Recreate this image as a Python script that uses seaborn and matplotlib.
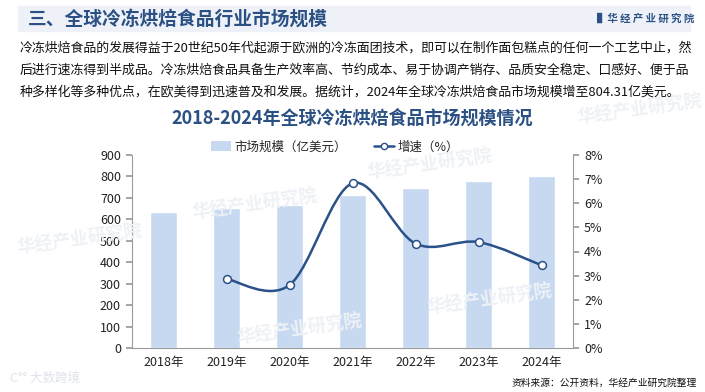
import numpy as np
import pandas as pd
import matplotlib
matplotlib.use('Agg')
import matplotlib.pyplot as plt
import seaborn as sns
from matplotlib.path import Path
from matplotlib.patches import PathPatch, Patch, Rectangle
from matplotlib.lines import Line2D

# data
years = ['2018年', '2019年', '2020年', '2021年', '2022年', '2023年', '2024年']
market_size = [633.3, 651.4, 668.4, 714.0, 744.9, 777.6, 804.31]   # 亿美元
growth = [np.nan, 2.86, 2.61, 6.83, 4.33, 4.39, 3.43]              # %
left_ticks = [0, 100, 200, 300, 400, 500, 600, 700, 800, 900]
right_ticks = [0, 1, 2, 3, 4, 5, 6, 7, 8]

sns.set_theme(style='white')
plt.rcParams['font.family'] = ['Noto Sans CJK SC', 'DejaVu Sans']
plt.rcParams['axes.unicode_minus'] = False

bar_color = '#c6d9f1'
line_color = '#2a5189'
title_color = '#2b5083'

df = pd.DataFrame({'year': years, 'size': market_size, 'growth': growth})

fig = plt.figure(figsize=(7.05, 3.92), dpi=100)

# header banner
fig.patches.append(Rectangle((18 / 705, 1 - 31 / 392), 672 / 705, 25 / 392,
                             transform=fig.transFigure, color='#eef2f8', zorder=0))
fig.text(28 / 705, 1 - 19 / 392, '三、全球冷冻烘焙食品行业市场规模', fontsize=13.5,
         fontweight='bold', color=title_color, va='center', ha='left')
fig.text(597 / 705, 1 - 19 / 392, '▌华 经 产 业 研 究 院', fontsize=7.5,
         fontweight='bold', color=title_color, va='center', ha='left')

para = ['冷冻烘焙食品的发展得益于20世纪50年代起源于欧洲的冷冻面团技术，即可以在制作面包糕点的任何一个工艺中止，然',
        '后进行速冻得到半成品。冷冻烘焙食品具备生产效率高、节约成本、易于协调产销存、品质安全稳定、口感好、便于品',
        '种多样化等多种优点，在欧美得到迅速普及和发展。据统计，2024年全球冷冻烘焙食品市场规模增至804.31亿美元。']
for i, line in enumerate(para):
    fig.text(20 / 705, 1 - (48 + i * 22) / 392, line, fontsize=9.3, color='#111111',
             va='center', ha='left')

fig.text(352 / 705, 1 - 118 / 392, '2018-2024年全球冷冻烘焙食品市场规模情况', fontsize=13,
         fontweight='bold', color=title_color, va='center', ha='center')

fig.text(697 / 705, 1 - 383 / 392, '资料来源：公开资料，华经产业研究院整理', fontsize=7,
         color='#111111', va='center', ha='right')

# faint watermarks
for (x, y, s) in [(255, 205, '华经产业研究院'), (430, 165, '华经产业研究院'),
                  (300, 330, '华经产业研究院'), (490, 300, '华经产业研究院'),
                  (80, 240, '华经产业研究院'), (640, 110, '华经产业研究院')]:
    fig.text(x / 705, 1 - y / 392, s, fontsize=13, fontweight='bold', color='#eef1f5',
             rotation=8, va='center', ha='center', zorder=0)
fig.text(10 / 705, 1 - 378 / 392, 'C°° 大数跨境', fontsize=9, color='#dfe3e9',
         va='center', ha='left')

ax = fig.add_axes([132 / 705, 44 / 392, 441 / 705, 193 / 392])
ax.patch.set_alpha(0)
sns.barplot(data=df, x='year', y='size', color=bar_color, width=0.44,
            saturation=1, ax=ax, zorder=2)
ax.set_ylim(0, 900)
ax.set_yticks(left_ticks)
ax.set_xlabel('')
ax.set_ylabel('')
ax.tick_params(axis='both', labelsize=9, colors='#222222', length=0, pad=4)
ax.tick_params(axis='x', pad=6)
for s in ['top', 'right']:
    ax.spines[s].set_visible(False)
for s in ['left', 'bottom']:
    ax.spines[s].set_color('#9a9a9a')
    ax.spines[s].set_linewidth(0.8)
# small x tick marks between categories
ax.set_xticks(np.arange(-0.5, len(years), 1), minor=True)
ax.tick_params(axis='x', which='minor', length=4, color='#9a9a9a', direction='out')
ax.tick_params(axis='y', which='major', length=4, color='#9a9a9a', direction='out')
ax.set_xlim(-0.5, len(years) - 0.5)

ax2 = ax.twinx()
ax2.set_ylim(0, 8)
ax2.set_yticks(right_ticks)
ax2.set_yticklabels([f'{t}%' for t in right_ticks])
ax2.tick_params(axis='y', labelsize=9, colors='#222222', length=4, color='#9a9a9a', pad=4)
for s in ['top', 'left', 'bottom']:
    ax2.spines[s].set_visible(False)
ax2.spines['right'].set_color('#9a9a9a')
ax2.spines['right'].set_linewidth(0.8)

# smooth line through the growth points (Catmull-Rom style bezier)
gx = np.array([i for i, g in enumerate(growth) if not np.isnan(g)], dtype=float)
gy = np.array([g for g in growth if not np.isnan(g)])
verts = [(gx[0], gy[0])]
codes = [Path.MOVETO]
n = len(gx)
for i in range(n - 1):
    p0 = np.array([gx[max(i - 1, 0)], gy[max(i - 1, 0)]])
    p1 = np.array([gx[i], gy[i]])
    p2 = np.array([gx[i + 1], gy[i + 1]])
    p3 = np.array([gx[min(i + 2, n - 1)], gy[min(i + 2, n - 1)]])
    c1 = p1 + (p2 - p0) / 6
    c2 = p2 - (p3 - p1) / 6
    verts += [tuple(c1), tuple(c2), tuple(p2)]
    codes += [Path.CURVE4] * 3
ax2.add_patch(PathPatch(Path(verts, codes), facecolor='none', edgecolor=line_color,
                        lw=1.8, zorder=3))
sns.scatterplot(x=gx, y=gy, ax=ax2, s=32, color='white', edgecolor=line_color,
                linewidth=1.1, zorder=4, legend=False)
ax2.set_xlim(-0.5, len(years) - 0.5)

handles = [Patch(facecolor=bar_color, edgecolor='none'),
           Line2D([0], [0], color=line_color, lw=1.8, marker='o', markersize=4.5,
                  markerfacecolor='white', markeredgecolor=line_color)]
fig.legend(handles, ['市场规模（亿美元）', '增速（%）'], loc='center',
           bbox_to_anchor=(335 / 705, 1 - 147 / 392), ncol=2, frameon=False,
           fontsize=9, handlelength=1.6, handleheight=0.9, columnspacing=2.2,
           handletextpad=0.3)

fig.savefig('out.png', dpi=100)
